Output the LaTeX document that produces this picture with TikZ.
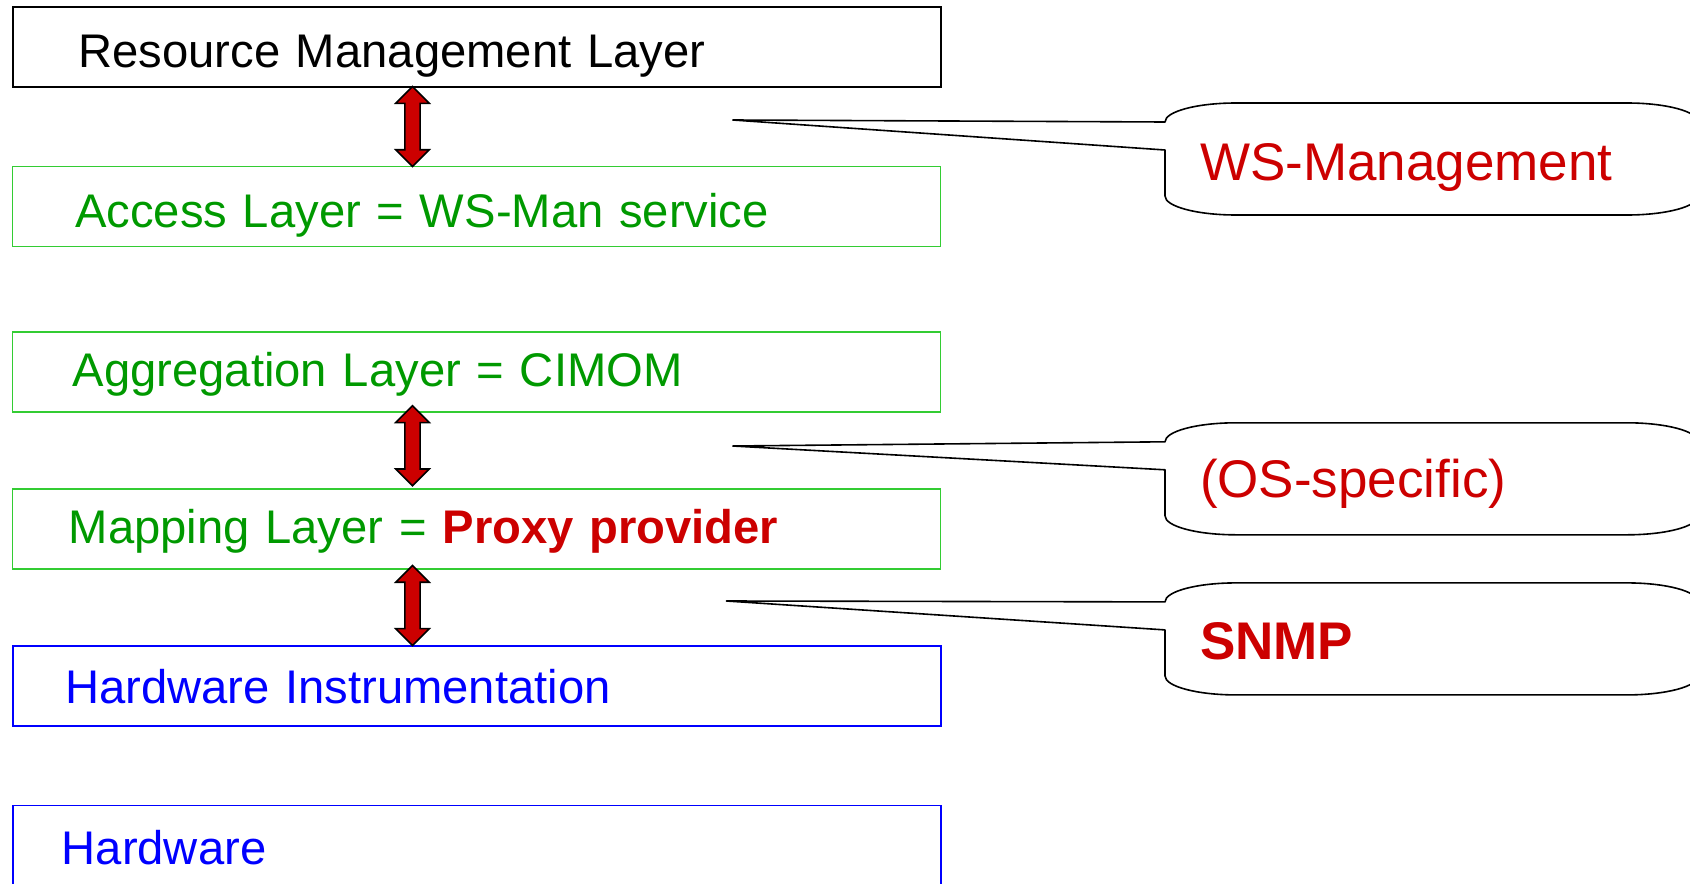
\documentclass[tikz,border=0pt]{standalone}
\usepackage{fontspec}
\setmainfont{Liberation Sans}
\usetikzlibrary{positioning, shapes.arrows, calc}

\definecolor{boxgreen}{RGB}{51,204,51}
\definecolor{textgreen}{RGB}{0,153,0}
\definecolor{alertred}{RGB}{204,0,0}
\definecolor{hwblue}{RGB}{0,0,255}

\begin{document}
\begin{tikzpicture}[
    layer/.style={draw, line width=0.75pt, outer sep=0pt, inner sep=0pt,
        minimum height=40pt, text width=464pt, align=left, text height=22pt,
        font=\fontsize{23.6}{28}\selectfont},
    greenbox/.style={draw=boxgreen, text=textgreen},
    bluebox/.style={draw=hwblue, line width=0.85pt, text=hwblue},
    updown/.style={double arrow, draw=black, fill=alertred, line width=0.8pt,
        rotate=90, minimum height=40pt, minimum width=16pt, inner sep=3.4pt,
        double arrow head extend=4.6pt},
    bubble/.style={outer sep=0pt, inner xsep=17.5pt, inner ysep=0pt,
        minimum height=56pt, text width=231.5pt, align=left, text height=24pt,
        text=alertred, anchor=west, font=\fontsize{26.5}{30}\selectfont},
    balloon/.style={draw=black, line width=0.8pt, line join=round}]

    \useasboundingbox (0,0) rectangle (845pt,-441.5pt);

    % the layers
    \node[layer, draw=black, line width=1pt, text depth=1.6pt, anchor=north west] (rml)
        at (6.35pt,-3.35pt) {\hspace*{32.8pt}Resource Management Layer};
    \node[layer, greenbox, text depth=1.2pt, below=39.85pt of rml] (acc)
        {\hspace*{31.2pt}Access Layer = WS-Man service};
    \node[layer, greenbox, text depth=7.6pt, below=42.85pt of acc] (agg)
        {\hspace*{30pt}Aggregation Layer = CIMOM};
    \node[layer, greenbox, text depth=7.8pt, below=38.5pt of agg] (map)
        {\hspace*{28pt}Mapping Layer = \textcolor{alertred}{\bfseries Proxy provider}};
    \node[layer, bluebox, text depth=4.8pt, below=38.35pt of map] (hwi)
        {\hspace*{26.2pt}Hardware Instrumentation};
    \node[layer, bluebox, text depth=3.2pt, below=39.85pt of hwi] (hw)
        {\hspace*{24.5pt}Hardware};

    % the arrows between the layers
    \node[updown] (a1) at ($(rml.south)!.5!(acc.north)+(-32.1pt,0)$) {};
    \node[updown] (a2) at ($(agg.south)!.5!(map.north)+(-32.1pt,2.4pt)$) {};
    \node[updown] (a3) at ($(map.south)!.5!(hwi.north)+(-32.1pt,1pt)$) {};

    % the callouts
    \node[bubble, text depth=2.4pt] (wsm) at (582.5pt,-79.5pt) {WS-Management};
    \node[bubble, text depth=5.6pt] (ossp) at (582.5pt,-239.4pt) {(OS-specific)};
    \node[bubble, text depth=3pt, font=\fontsize{26.5}{30}\selectfont\bfseries] (snmp)
        at (582.5pt,-319.45pt) {SNMP};
    \coordinate (wsm tip) at (366.4pt,-60pt);
    \coordinate (ossp tip) at (366.4pt,-223pt);
    \coordinate (snmp tip) at (363.25pt,-300.5pt);

    \foreach \c in {wsm, ossp, snmp}
        \draw[balloon] (\c\space tip) -- ([yshift=-9.5pt]\c.north west)
            arc[start angle=180, end angle=90, x radius=35.5pt, y radius=9.5pt]
            -- ([xshift=-35.5pt]\c.north east)
            arc[start angle=90, end angle=0, x radius=35.5pt, y radius=9.5pt]
            -- ([yshift=9.5pt]\c.south east)
            arc[start angle=0, end angle=-90, x radius=35.5pt, y radius=9.5pt]
            -- ([xshift=35.5pt]\c.south west)
            arc[start angle=270, end angle=180, x radius=35.5pt, y radius=9.5pt]
            -- ([yshift=-23.5pt]\c.north west) -- cycle;
\end{tikzpicture}
\end{document}
